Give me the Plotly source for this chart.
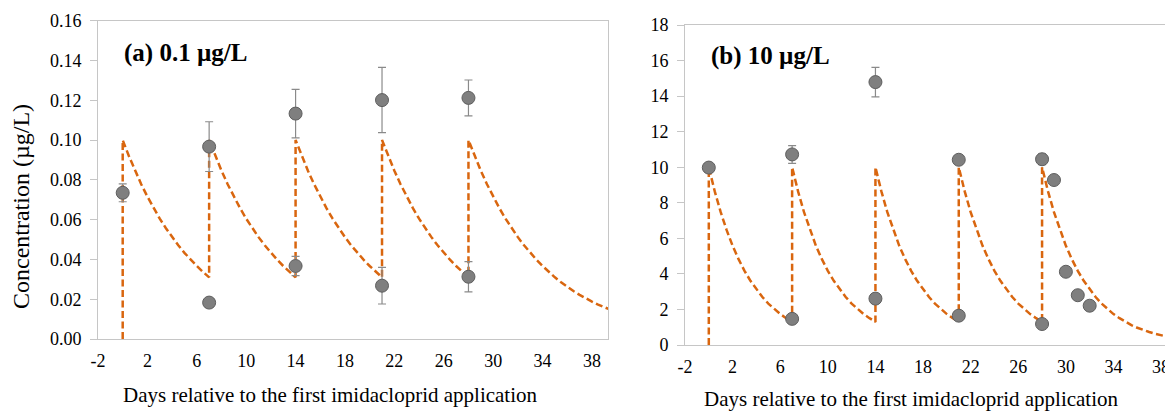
import plotly.graph_objects as go

# ---------------- data ----------------
dose_days = [0, 7, 14, 21, 28]

# observed concentrations, panel (a) 0.1 ug/L
days_a = [0, 7, 7, 14, 14, 21, 21, 28, 28]
conc_a = [0.0735, 0.0967, 0.0183, 0.1133, 0.0367, 0.1201, 0.0268, 0.1212, 0.0313]
err_a = [0.0045, 0.0125, 0.0, 0.0122, 0.0048, 0.0164, 0.0092, 0.0090, 0.0076]

# observed concentrations, panel (b) 10 ug/L
days_b = [0, 7, 7, 14, 14, 21, 21, 28, 28, 29, 30, 31, 32]
conc_b = [9.98, 10.72, 1.47, 14.79, 2.61, 10.42, 1.65, 10.45, 1.18, 9.28, 4.12, 2.80, 2.21]
err_b = [0.0, 0.50, 0.0, 0.83, 0.0, 0.0, 0.0, 0.30, 0.0, 0.0, 0.0, 0.0, 0.0]

# modelled curve after each application (days since application -> concentration)
decay_days = [0, 0.5, 1, 1.5, 2, 2.5, 3, 3.5, 4, 4.5, 5, 5.5, 6, 6.5, 7,
              7.5, 8, 8.5, 9, 9.5, 10, 10.5, 11, 11.5, 12]
model_a = [0.100, 0.092, 0.0846, 0.0778, 0.0716, 0.0658, 0.0605, 0.0557, 0.0512, 0.0471,
           0.0433, 0.0399, 0.0367, 0.0337, 0.0310,
           0.0285, 0.0262, 0.0241, 0.0222, 0.0204, 0.0188, 0.0173, 0.0159, 0.0146, 0.0134]
model_b = [10.0, 8.64, 7.47, 6.46, 5.58, 4.83, 4.17, 3.61, 3.12, 2.70, 2.33, 2.01, 1.74, 1.51, 1.30,
           1.12, 0.97, 0.84, 0.73, 0.63, 0.54, 0.47, 0.41, 0.35, 0.30]

x_ticks = [-2, 2, 6, 10, 14, 18, 22, 26, 30, 34, 38]

# ---------------- styling ----------------
# the page body has an 8px margin, so the figure is 8px smaller and
# all positions are given in screen pixels minus that offset
OFF = 8
W, H = 1173 - OFF, 412 - OFF
FONT = "Liberation Serif"
ORANGE = "#d9660f"
GREY_M = "#7f7f7f"
AX = "#c6c6c6"
TXT = "#000000"


def build_curve(profile):
    xs, ys = [0], [0]
    for i, d in enumerate(dose_days):
        last = i == len(dose_days) - 1
        for off, v in zip(decay_days, profile):
            if last or off <= 7:
                xs.append(d + off)
                ys.append(v)
    return xs, ys


fig = go.Figure()

for (profile, xa, ya) in [(model_a, "x", "y"), (model_b, "x2", "y2")]:
    cx, cy = build_curve(profile)
    fig.add_trace(go.Scatter(x=cx, y=cy, mode="lines", xaxis=xa, yaxis=ya,
                             line=dict(color=ORANGE, width=2.5, dash="7px,3.5px"),
                             showlegend=False, hoverinfo="skip"))

for (dx, dy, de, xa, ya) in [(days_a, conc_a, err_a, "x", "y"), (days_b, conc_b, err_b, "x2", "y2")]:
    fig.add_trace(go.Scatter(x=dx, y=dy, mode="markers", xaxis=xa, yaxis=ya,
                             marker=dict(size=13, color=GREY_M, line=dict(color="#5e5e5e", width=1)),
                             error_y=dict(type="data", array=de, visible=True, color="#8a8a8a",
                                          thickness=1.2, width=4),
                             showlegend=False))


def px_x(p):
    return (p - OFF) / W


def px_y(p):
    return 1 - (p - OFF) / H


common_x = dict(tickmode="array", tickvals=x_ticks, ticktext=[str(t) for t in x_ticks],
                showgrid=False, zeroline=False, showline=True, linecolor=AX, linewidth=1,
                ticks="", tickfont=dict(family=FONT, size=18, color=TXT),
                ticklabelstandoff=5, automargin=False)
common_y = dict(showgrid=False, zeroline=False, showline=True, linecolor=AX, linewidth=1,
                ticks="outside", tickcolor=AX, ticklen=7,
                tickfont=dict(family=FONT, size=18, color=TXT), ticklabelstandoff=5,
                automargin=False)

fig.update_layout(
    width=W, height=H, margin=dict(l=0, r=0, t=0, b=0, autoexpand=False),
    font=dict(family=FONT, color=TXT),
    plot_bgcolor="white", paper_bgcolor="white",
    xaxis=dict(domain=[px_x(98), px_x(608)], range=[-2, 39.3], mirror=True, anchor="y", **common_x),
    yaxis=dict(domain=[px_y(339), px_y(20.7)], range=[0, 0.16], dtick=0.02, tickformat=".2f",
               mirror=True, anchor="x", **common_y),
    xaxis2=dict(domain=[px_x(685), 1.0], range=[-2, 39.0], mirror=True, anchor="y2", **common_x),
    yaxis2=dict(domain=[px_y(345), px_y(25)], range=[0, 18], dtick=2, mirror=False,
                anchor="x2", **common_y),
)

annots = [
    dict(text="Concentration (µg/L)", x=px_x(21), y=px_y(207), textangle=-90,
         font=dict(family=FONT, size=24, color=TXT)),
    dict(text="Days relative to the first imidacloprid application", x=px_x(330), y=px_y(395),
         font=dict(family=FONT, size=21, color=TXT)),
    dict(text="Days relative to the first imidacloprid application", x=px_x(911), y=px_y(399),
         font=dict(family=FONT, size=21, color=TXT)),
    dict(text="<b>(a) 0.1 µg/L</b>", x=px_x(122), y=px_y(53), xanchor="left",
         font=dict(family=FONT, size=25, color=TXT)),
    dict(text="<b>(b) 10 µg/L</b>", x=px_x(709), y=px_y(56), xanchor="left",
         font=dict(family=FONT, size=25, color=TXT)),
]
for a in annots:
    a.setdefault("xanchor", "center")
    a.setdefault("yanchor", "middle")
    fig.add_annotation(xref="paper", yref="paper", showarrow=False, **a)

fig.write_html("out.html")
